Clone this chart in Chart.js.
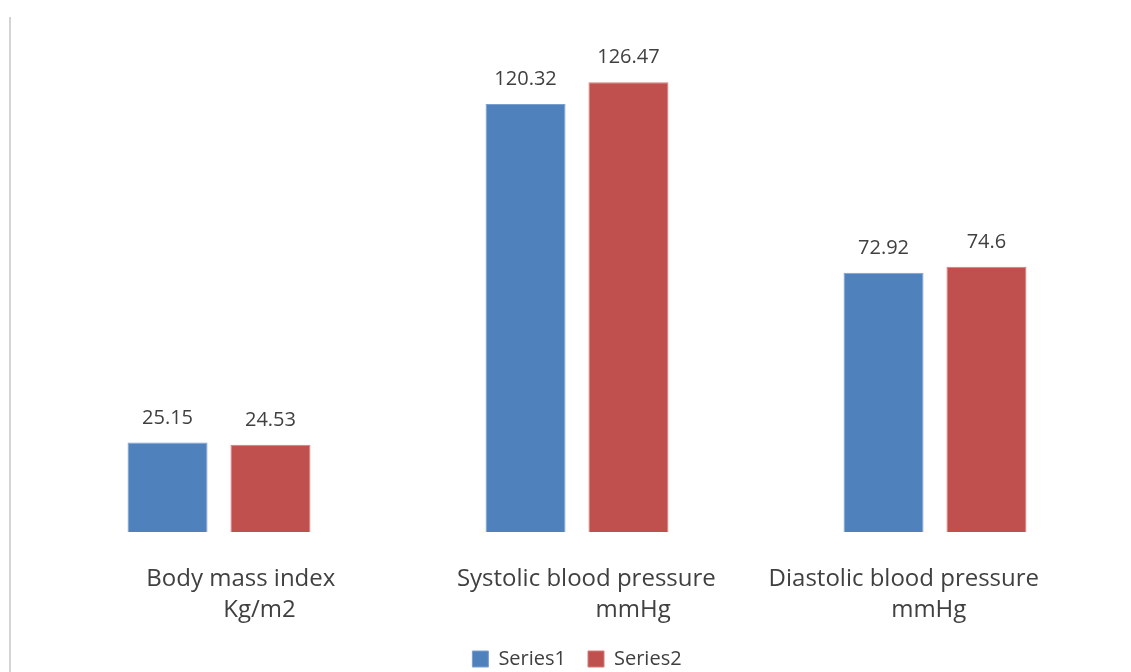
<!DOCTYPE html>
<html>
<head>
<meta charset="utf-8">
<script src="https://cdn.jsdelivr.net/npm/chart.js@4.4.1/dist/chart.umd.min.js"></script>
<style>
  html, body { margin: 0; padding: 0; background: #ffffff; }
  #wrap { position: relative; width: 1131px; height: 672px; }
  #frame { position: absolute; left: 9px; top: 17px; width: 0; height: 655px; border-left: 2px solid #d4d4d4; }
  canvas { position: absolute; left: 0; top: 0; }
</style>
</head>
<body>
<div id="wrap">
  <div id="frame"></div>
  <canvas id="c" width="1131" height="672"></canvas>
</div>
<script>
// Category labels (two lines each) and the two series
const categories = [
  ["Body mass index", "Kg/m2"],
  ["Systolic blood pressure", "mmHg"],
  ["Diastolic blood pressure", "mmHg"]
];
const series1 = [25.15, 120.32, 72.92];
const series2 = [24.53, 126.47, 74.6];
const seriesNames = ["Series1", "Series2"];

const FONT = "'Open Sans', sans-serif";
const TEXT = "#404040";
const TICK_FONT = { family: FONT, size: 24, lineHeight: 1.29 };

// Horizontal nudge (px) of each wrapped label line, done by padding with spaces
const lineShift = [[22, 42], [8, 56], [-30, -7]];
const measureCtx = document.createElement("canvas").getContext("2d");
measureCtx.font = TICK_FONT.size + "px " + FONT;
const spaceW = measureCtx.measureText(" ").width;
function shiftText(text, px) {
  const n = Math.round(Math.abs(px) * 2 / spaceW);
  const pad = " ".repeat(n);
  return px >= 0 ? pad + text : text + pad;
}

// Writes each bar's value just above it
const valueLabels = {
  id: "valueLabels",
  afterDatasetsDraw(chart) {
    const ctx = chart.ctx;
    ctx.save();
    ctx.font = "20px " + FONT;
    ctx.fillStyle = TEXT;
    ctx.textAlign = "center";
    ctx.textBaseline = "alphabetic";
    chart.data.datasets.forEach((ds, i) => {
      chart.getDatasetMeta(i).data.forEach((bar, j) => {
        ctx.fillText(String(ds.data[j]), bar.x, bar.y - 19);
      });
    });
    ctx.restore();
  }
};

new Chart(document.getElementById("c"), {
  type: "bar",
  data: {
    labels: categories,
    datasets: [
      { label: seriesNames[0], data: series1, backgroundColor: "#4f81bd", borderColor: "#7aa0cf", borderWidth: 1,
        barPercentage: 0.777, categoryPercentage: 0.575 },
      { label: seriesNames[1], data: series2, backgroundColor: "#c0504d", borderColor: "#d27d7b", borderWidth: 1,
        barPercentage: 0.777, categoryPercentage: 0.575 }
    ]
  },
  options: {
    responsive: false,
    animation: false,
    layout: { padding: { left: 40, right: 17, top: 34, bottom: -7 } },
    plugins: {
      legend: {
        position: "bottom",
        labels: {
          font: { family: FONT, size: 20 },
          color: TEXT,
          boxWidth: 16,
          boxHeight: 16,
          padding: 22
        }
      },
      tooltip: { enabled: false }
    },
    scales: {
      x: {
        grid: { display: false },
        border: { display: false },
        afterFit: (scale) => { scale.height -= 23; },
        ticks: {
          font: TICK_FONT,
          color: TEXT,
          padding: 24,
          maxRotation: 0,
          autoSkip: false,
          callback: (v, i) => categories[i].map((t, k) => shiftText(t, lineShift[i][k]))
        }
      },
      y: {
        display: false,
        min: 0,
        max: 140
      }
    }
  },
  plugins: [valueLabels]
});
</script>
</body>
</html>
